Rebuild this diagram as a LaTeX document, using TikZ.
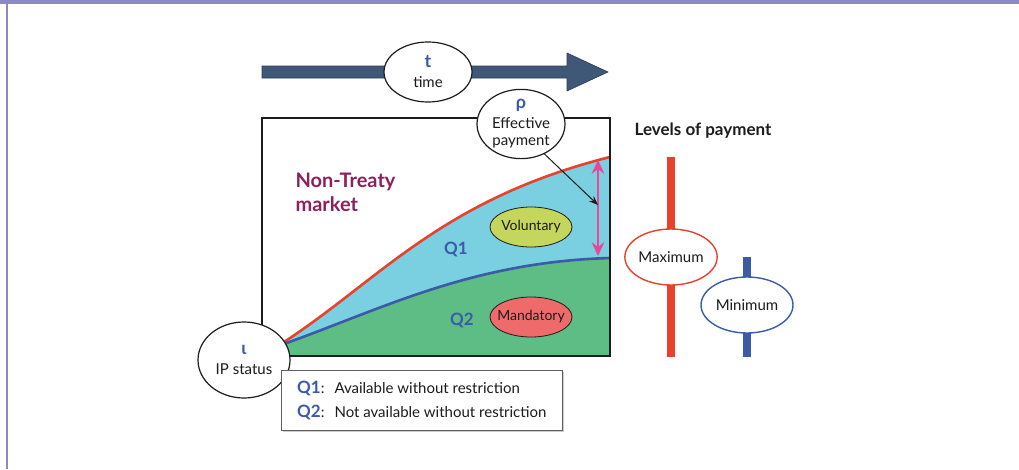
\documentclass[tikz,border=0pt]{standalone}
\usepackage{fontspec}
\setmainfont{Lato}
\usetikzlibrary{arrows.meta,positioning,shapes.geometric,shadows}
\definecolor{payInk}{HTML}{1C1C1C}
\definecolor{payBlue}{HTML}{3B5BA9}
\definecolor{payRed}{HTML}{E8412C}
\definecolor{payCyan}{HTML}{7ACFE0}
\definecolor{payGreen}{HTML}{5DBD85}
\definecolor{payLime}{HTML}{C4D65C}
\definecolor{paySalmon}{HTML}{EF6B6B}
\definecolor{payPink}{HTML}{E8489A}
\definecolor{payPlum}{HTML}{8E1F5E}
\definecolor{paySlate}{HTML}{3F5877}
\definecolor{payFrame}{HTML}{8C89C6}
\tikzset{
  every picture/.style={font=\fontsize{15}{19}\selectfont, text=payInk},
  pay oval/.style={ellipse, draw=payInk, line width=1.2pt, fill=white,
    align=center, inner sep=0pt, minimum width=88pt, minimum height=60pt},
  pay small oval/.style={ellipse, draw=payInk, line width=0.8pt,
    font=\fontsize{14}{17}\selectfont, inner xsep=-8pt, inner ysep=0pt,
    minimum width=82pt, minimum height=40pt},
  pay level/.style={ellipse, line width=1.4pt, fill=white, inner sep=0pt,
    minimum width=92pt, minimum height=56pt},
  pay bar/.style={line width=8pt},
  pay q/.style={font=\fontsize{17}{19}\selectfont\bfseries, text=payBlue},
  pay arrow/.style={-{Stealth[length=3.2mm,width=2.4mm]}, draw=payInk, line width=1pt}
}
\begin{document}
\begin{tikzpicture}[x=1pt,y=-1pt]
  \useasboundingbox (0,0) rectangle (1019,469);
  % frame
  \fill[payFrame] (0,0) rectangle (1019,4);
  \fill[payFrame] (6,0) rectangle (8,469);
  % time arrow
  \filldraw[fill=paySlate, draw=paySlate!70!black, line width=0.6pt]
    (262,66) -- (567,66) -- (567,53) -- (608,72) -- (567,91) -- (567,78) -- (262,78) -- cycle;
  \node[pay oval] (time) at (428,72) {{\fontsize{18}{19}\selectfont\bfseries\color{payBlue}t}\\[1pt]time};
  % market areas
  \fill[payCyan] (281,344) .. controls (380,280) and (440,200) .. (610,157)
    -- (610,258) .. controls (470,262) and (380,310) .. (281,345) -- cycle;
  \fill[payGreen] (281,345) .. controls (380,310) and (470,262) .. (610,258)
    -- (610,356) -- (281,356) -- cycle;
  \draw[payRed, line width=2.6pt] (281,344) .. controls (380,280) and (440,200) .. (610,157);
  \draw[payBlue, line width=2.6pt] (281,345) .. controls (380,310) and (470,262) .. (610,258);
  \draw[payInk, line width=1.8pt] (262,118) rectangle (610,356);
  \node[font=\fontsize{20}{24}\selectfont\bfseries, text=payPlum, align=left, anchor=north west]
    (market) at (292,170) {Non-Treaty\\market};
  \node[pay q] (q1) at (456,249) {Q1};
  \node[pay q] (q2) at (462,320) {Q2};
  \node[pay small oval, fill=payLime] (voluntary) at (531,227) {Voluntary};
  \node[pay small oval, fill=paySalmon] (mandatory) at (531,317) {Mandatory};
  % effective payment
  \coordinate (payTop) at (598,160);
  \coordinate (payLow) at (598,256);
  \draw[{Stealth[length=4.8mm,width=4.4mm]}-{Stealth[length=4.8mm,width=4.4mm]}, payPink, line width=2.8pt]
    (payTop) -- (payLow);
  \node[pay oval, minimum height=62pt] (rho) at (521,124)
    {{\fontsize{18}{19}\selectfont\bfseries\color{payBlue}ρ}\\[1pt]Effective\\[-2pt]payment};
  \coordinate (rhoTip) at (598,205);
  \draw[pay arrow] (rho.-52) -- (rhoTip);
  % IP status
  \node[pay oval, minimum width=92pt, minimum height=76pt] (ip) at (244,360)
    {{\fontsize{18}{19}\selectfont\bfseries\color{payBlue}ι}\\[1pt]IP status};
  % legend
  \node[draw=payInk!70, line width=0.6pt, fill=white, anchor=north west, align=left,
    minimum width=281pt, minimum height=60pt, inner xsep=10pt,
    drop shadow={shadow xshift=1.2pt, shadow yshift=-1.2pt, opacity=0.4}]
    (legend) at (281,370)
    {{\fontsize{17}{19}\selectfont\bfseries\color{payBlue}Q1}:\hspace{10pt}Available without restriction\\[5pt]
     {\fontsize{17}{19}\selectfont\bfseries\color{payBlue}Q2}:\hspace{10pt}Not available without restriction};
  % levels of payment
  \node[font=\fontsize{17}{19}\selectfont\bfseries] (levels) at (703,131) {Levels of payment};
  \coordinate (maxTop) at (671,157);
  \coordinate (maxLow) at (671,357);
  \coordinate (minTop) at (747,257);
  \coordinate (minLow) at (747,357);
  \draw[pay bar, payRed] (maxTop) -- (maxLow);
  \draw[pay bar, payBlue] (minTop) -- (minLow);
  \node[pay level, draw=payRed] (maximum) at (671,257) {Maximum};
  \node[pay level, draw=payBlue] (minimum) at (747,305) {Minimum};
\end{tikzpicture}
\end{document}
